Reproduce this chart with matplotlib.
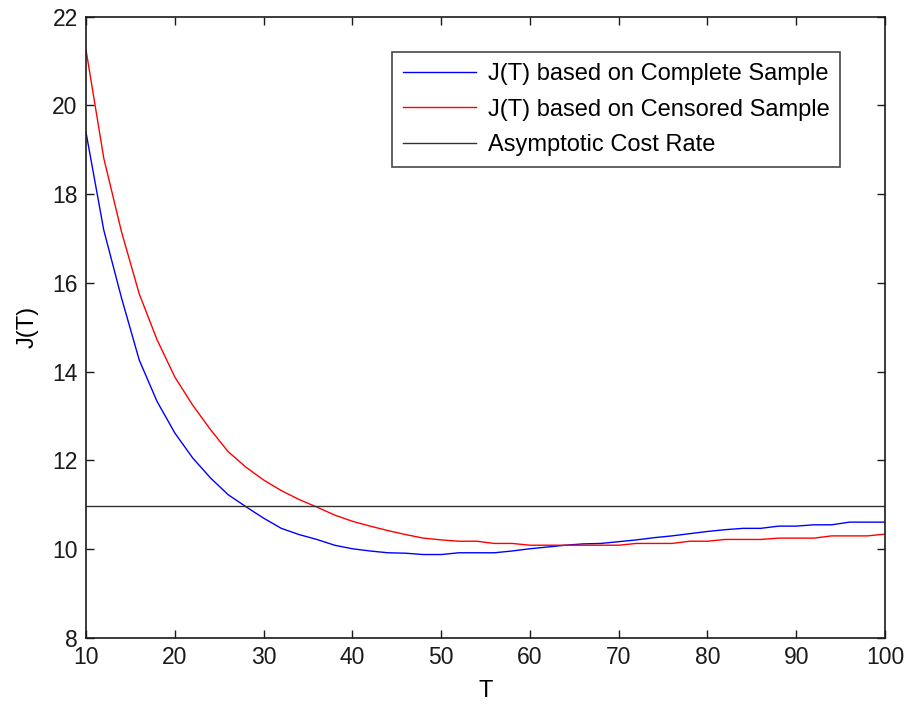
import numpy as np
import matplotlib
matplotlib.use("Agg")
import matplotlib.pyplot as plt

T = list(range(10, 101, 2))

J_complete = [19.39, 17.19, 15.66, 14.26, 13.33, 12.62, 12.06, 11.61, 11.23, 10.96,
              10.70, 10.47, 10.33, 10.22, 10.09, 10.01, 9.96, 9.92, 9.91, 9.88,
              9.88, 9.92, 9.92, 9.92, 9.96, 10.01, 10.05, 10.09, 10.12, 10.13,
              10.17, 10.21, 10.26, 10.30, 10.35, 10.40, 10.44, 10.47, 10.47, 10.52,
              10.52, 10.55, 10.55, 10.61, 10.61, 10.61]

J_censored = [21.25, 18.81, 17.15, 15.75, 14.72, 13.88, 13.25, 12.70, 12.20, 11.85,
              11.56, 11.32, 11.12, 10.95, 10.77, 10.63, 10.52, 10.42, 10.33, 10.25,
              10.21, 10.18, 10.18, 10.13, 10.13, 10.09, 10.09, 10.09, 10.09, 10.09,
              10.09, 10.13, 10.13, 10.13, 10.18, 10.18, 10.22, 10.22, 10.22, 10.25,
              10.25, 10.25, 10.30, 10.30, 10.30, 10.34]

asymptotic = 10.97

labels = ["J(T) based on Complete Sample", "J(T) based on Censored Sample", "Asymptotic Cost Rate"]
xticks = list(range(10, 101, 10))
yticks = list(range(8, 23, 2))

plt.rcParams['font.family'] = ['Liberation Sans', 'DejaVu Sans']

fig = plt.figure(figsize=(9.07, 7.04), dpi=100)
ax = fig.add_axes([86/907, 1-638/704, (885-86)/907, (638-16.5)/704])

ax.plot(T, J_complete, color='#0000ff', lw=1.0, label=labels[0])
ax.plot(T, J_censored, color='#ff0000', lw=1.0, label=labels[1])
ax.axhline(asymptotic, color='#333333', lw=1.0, label=labels[2])

ax.set_xlim(10, 100)
ax.set_ylim(8, 22)
ax.set_xticks(xticks)
ax.set_yticks(yticks)
ax.tick_params(direction='in', length=6, width=1, top=True, right=True,
               labelsize=16.5, pad=6, colors='#1a1a1a')
for s in ax.spines.values():
    s.set_linewidth(1.2)
    s.set_color('#1a1a1a')

ax.set_xlabel('T', fontsize=17, labelpad=8)
ax.set_ylabel('J(T)', fontsize=17, labelpad=10)

leg = ax.legend(loc='upper left', bbox_to_anchor=((392-86)/799, (638-52.3)/621.5),
                borderaxespad=0, fontsize=17, frameon=True, fancybox=False,
                handlelength=3.1, handletextpad=0.5, labelspacing=0.58,
                borderpad=0.45)
leg.get_frame().set_edgecolor('#1a1a1a')
leg.get_frame().set_linewidth(1.2)

fig.savefig('out.png', dpi=100)
